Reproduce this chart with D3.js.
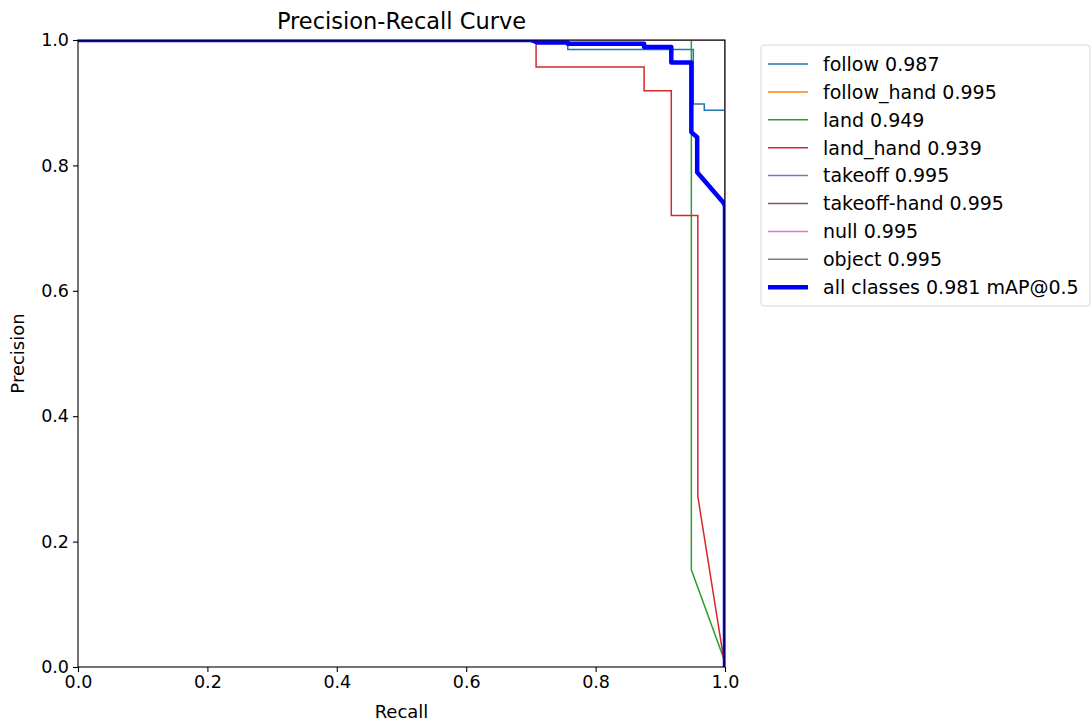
<!DOCTYPE html>
<html>
<head>
<meta charset="utf-8">
<script src="https://cdn.jsdelivr.net/npm/d3@7"></script>
<style>
  body { margin: 0; background: #fff; }
  svg { font-family: "DejaVu Sans", sans-serif; }
</style>
</head>
<body>
<svg id="chart" width="1091" height="724"></svg>
<script>
// --- data ---
const classNames = ["follow", "follow_hand", "land", "land_hand", "takeoff", "takeoff-hand", "null", "object"];
const classAP = [0.987, 0.995, 0.949, 0.939, 0.995, 0.995, 0.995, 0.995];
const classColors = ["#1f77b4", "#ff7f0e", "#2ca02c", "#d62728", "#9467bd", "#8c564b", "#e377c2", "#7f7f7f"];

// curve vertices (recall, precision) per class
const followRecall = [0, 0.757, 0.757, 0.951, 0.951, 0.968, 0.968, 1.0];
const followPrecision = [1, 1, 0.985, 0.985, 0.898, 0.898, 0.888, 0.888];
const perfectRecall = [0, 1.0, 1.0];
const perfectPrecision = [1, 1, 0];
const landRecall = [0, 0.948, 0.948, 1.0];
const landPrecision = [1, 1, 0.155, 0.008];
const landHandRecall = [0, 0.708, 0.708, 0.875, 0.875, 0.917, 0.917, 0.958, 0.958, 1.0];
const landHandPrecision = [1, 1, 0.957, 0.957, 0.919, 0.919, 0.720, 0.720, 0.272, 0.0];

const allRecall = [0, 0.70, 0.71, 0.757, 0.757, 0.875, 0.875, 0.917, 0.917, 0.948, 0.948, 0.957, 0.957, 0.998, 1.0, 1.0];
const allPrecision = [1, 1, 0.996, 0.996, 0.994, 0.994, 0.989, 0.989, 0.964, 0.964, 0.853, 0.845, 0.789, 0.740, 0.735, 0.0];
const allLabel = "all classes 0.981 mAP@0.5";

const classCurves = [
  [followRecall, followPrecision],
  [perfectRecall, perfectPrecision],
  [landRecall, landPrecision],
  [landHandRecall, landHandPrecision],
  [perfectRecall, perfectPrecision],
  [perfectRecall, perfectPrecision],
  [perfectRecall, perfectPrecision],
  [perfectRecall, perfectPrecision]
];
const ticks = [0, 0.2, 0.4, 0.6, 0.8, 1.0];

// --- layout ---
const svg = d3.select("#chart");
const mLeft = 78, mRight = 725, mTop = 40, mBottom = 667;

const x = d3.scaleLinear().domain([0, 1]).range([mLeft, mRight]);
const y = d3.scaleLinear().domain([0, 1]).range([mBottom, mTop]);

svg.append("defs").append("clipPath").attr("id", "plotclip")
  .append("rect")
  .attr("x", mLeft).attr("y", mTop)
  .attr("width", mRight - mLeft).attr("height", mBottom - mTop);

const line = d3.line().x(d => x(d[0])).y(d => y(d[1]));
const zipPts = (rs, ps) => rs.map((r, i) => [r, ps[i]]);

const plot = svg.append("g").attr("clip-path", "url(#plotclip)");

classCurves.forEach(function(c, i) {
  plot.append("path")
    .attr("d", line(zipPts(c[0], c[1])))
    .attr("fill", "none")
    .attr("stroke", classColors[i])
    .attr("stroke-width", 1.5);
});

plot.append("path")
  .attr("d", line(zipPts(allRecall, allPrecision)))
  .attr("fill", "none")
  .attr("stroke", "blue")
  .attr("stroke-width", 4.5)
  .attr("stroke-linejoin", "round");

// --- axes ---
const xAxis = d3.axisBottom(x).tickValues(ticks).tickFormat(d3.format(".1f")).tickSize(5).tickPadding(4);
const yAxis = d3.axisLeft(y).tickValues(ticks).tickFormat(d3.format(".1f")).tickSize(5).tickPadding(4);

const gx = svg.append("g").attr("transform", `translate(0,${mBottom})`).call(xAxis);
const gy = svg.append("g").attr("transform", `translate(${mLeft},0)`).call(yAxis);
[gx, gy].forEach(g => {
  g.select(".domain").remove();
  g.selectAll("line").attr("stroke", "#000").attr("stroke-width", 1.1);
  g.selectAll("text").attr("font-size", 17.5).attr("fill", "#000")
    .attr("font-family", "DejaVu Sans");
});

// spines
svg.append("rect")
  .attr("x", mLeft).attr("y", mTop)
  .attr("width", mRight - mLeft).attr("height", mBottom - mTop)
  .attr("fill", "none").attr("stroke", "#000").attr("stroke-width", 1.1);

// labels
svg.append("text")
  .attr("x", (mLeft + mRight) / 2).attr("y", 718)
  .attr("text-anchor", "middle").attr("font-size", 18)
  .text("Recall");
svg.append("text")
  .attr("transform", `translate(24,${(mTop + mBottom) / 2}) rotate(-90)`)
  .attr("text-anchor", "middle").attr("font-size", 18)
  .text("Precision");
svg.append("text")
  .attr("x", (mLeft + mRight) / 2).attr("y", 29)
  .attr("text-anchor", "middle").attr("font-size", 22.5)
  .text("Precision-Recall Curve");

// --- legend ---
const legend = svg.append("g");
legend.append("rect")
  .attr("x", 761).attr("y", 45)
  .attr("width", 329).attr("height", 261)
  .attr("rx", 3)
  .attr("fill", "#fff").attr("stroke", "#d6d6d6").attr("stroke-width", 1);

const legendItems = classNames.map((n, i) => ({ label: `${n} ${classAP[i].toFixed(3)}`, color: classColors[i], w: 1.5 }));
legendItems.push({ label: allLabel, color: "blue", w: 4.5 });

legendItems.forEach(function(d, i) {
  const yy = 64 + i * 27.9;
  legend.append("line")
    .attr("x1", 768).attr("x2", 808)
    .attr("y1", yy).attr("y2", yy)
    .attr("stroke", d.color).attr("stroke-width", d.w);
  legend.append("text")
    .attr("x", 823).attr("y", yy)
    .attr("dy", "0.36em")
    .attr("font-size", 19)
    .text(d.label);
});
</script>
</body>
</html>
